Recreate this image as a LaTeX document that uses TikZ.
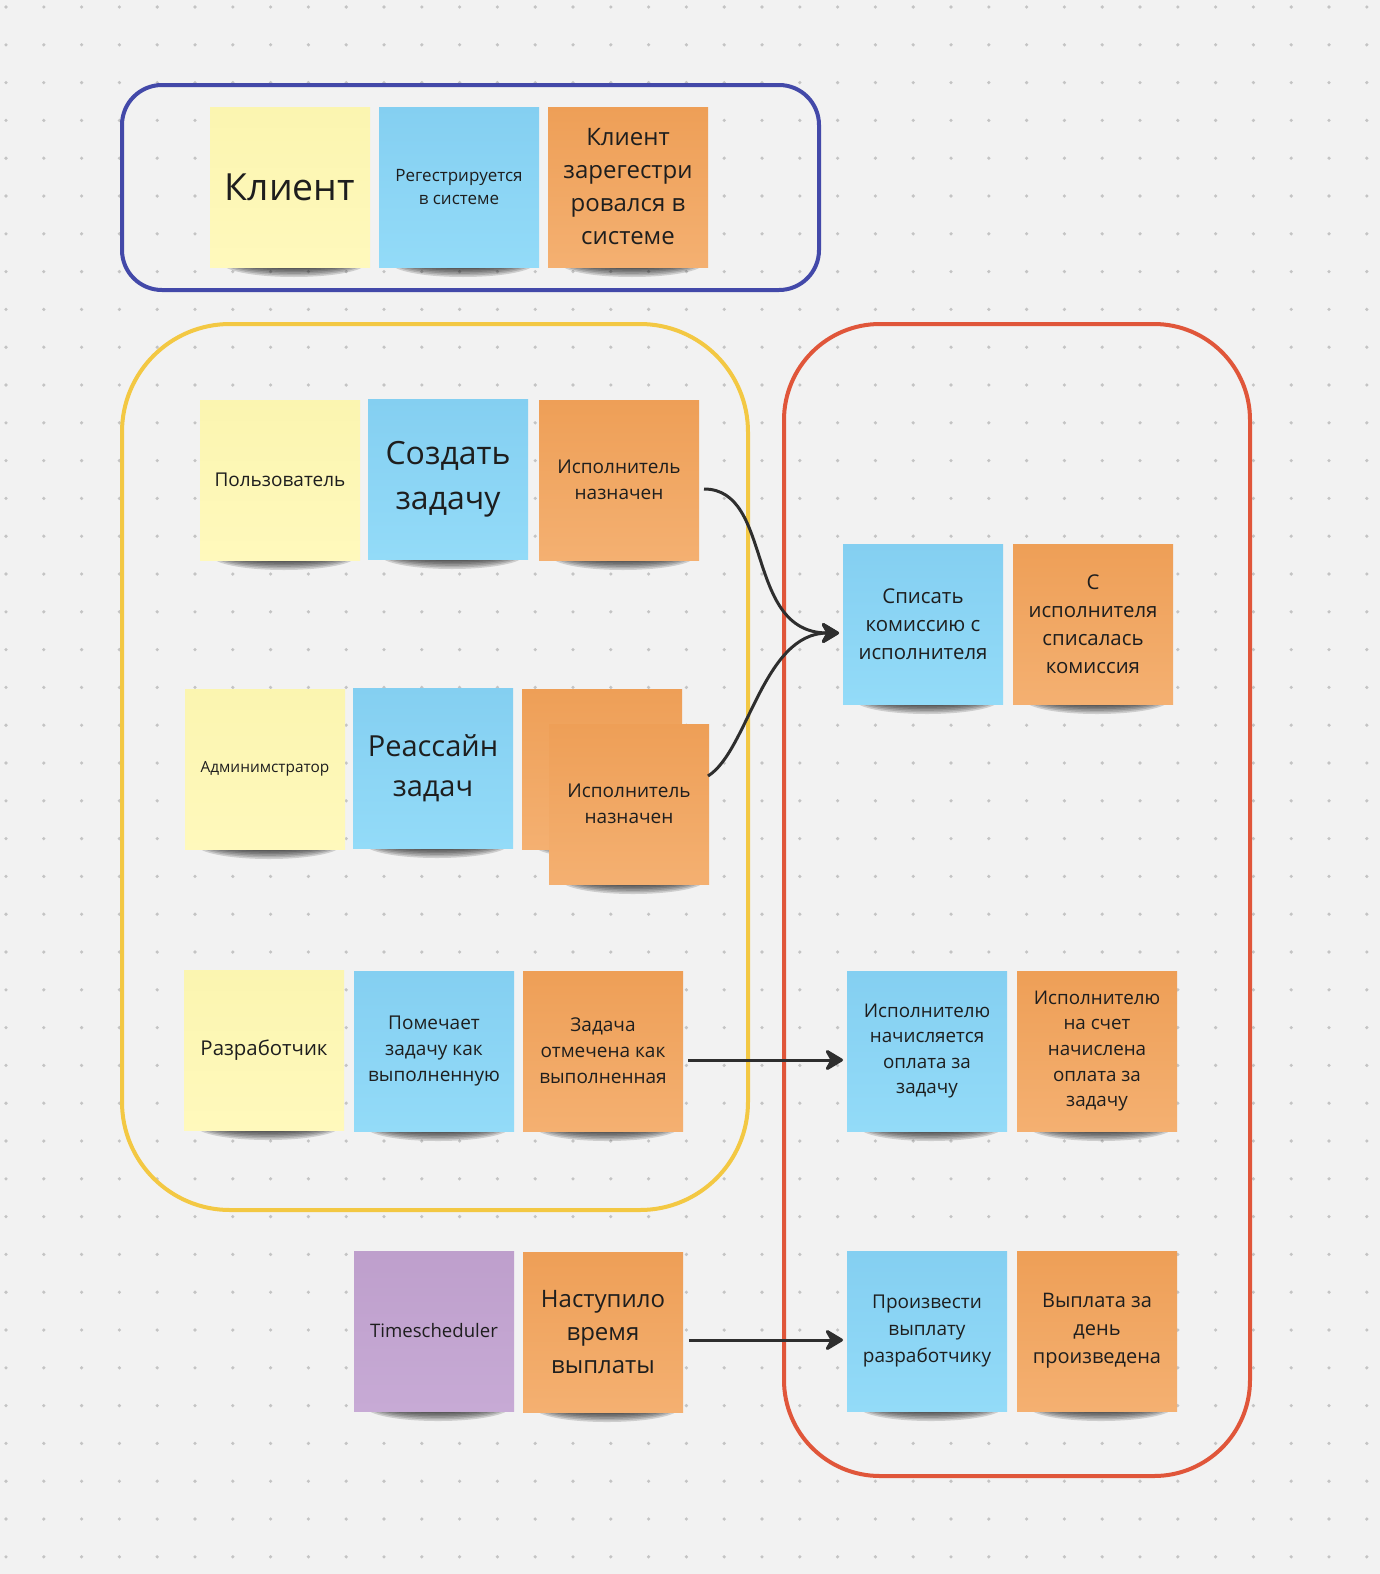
\documentclass[tikz,border=0pt]{standalone}
\usepackage{fontspec}
\setmainfont{Open Sans}
\usetikzlibrary{arrows.meta,calc}
\definecolor{bgc}{HTML}{F2F2F2}
\definecolor{dotc}{HTML}{C4C4C4}
\definecolor{textc}{HTML}{1E1E1E}
\definecolor{framebl}{HTML}{4349A9}
\definecolor{frameye}{HTML}{F3C843}
\definecolor{framere}{HTML}{E0563A}
\definecolor{linec}{HTML}{2E2E2E}
\definecolor{yeltop}{HTML}{FBF5B0}
\definecolor{yelbot}{HTML}{FFF9BC}
\definecolor{blutop}{HTML}{84CFF1}
\definecolor{blubot}{HTML}{93DBF8}
\definecolor{ortop}{HTML}{EE9F57}
\definecolor{orbot}{HTML}{F4B071}
\definecolor{purtop}{HTML}{BE9FCC}
\definecolor{purbot}{HTML}{C7AAD5}
\tikzset{
  sticky/.style={rectangle, minimum width=80pt, minimum height=80pt, inner sep=0pt, outer sep=0pt},
  yel/.style={top color=yeltop, bottom color=yelbot},
  blu/.style={top color=blutop, bottom color=blubot},
  ora/.style={top color=ortop, bottom color=orbot},
  pur/.style={top color=purtop, bottom color=purbot},
  txt/.style={align=center, text=textc, inner sep=0pt},
  frame/.style={line width=2pt, fill=none},
  shadowlayer/.style={fill=black, opacity=0.15},
  conn/.style={line width=1.5pt, draw=linec, -{Stealth[length=10.5pt,width=12.5pt,inset=3.5pt,round]}},
}
\newcommand\stk[7]{%
  \foreach \k in {0,...,5} {
    \fill[shadowlayer] ($(#2,#3)+(4,76)$) ellipse [x radius={36pt-1.6pt*\k}, y radius={7pt-0.8pt*\k}];
  }
  \node[sticky,#4] (#1) at (#2,#3) {};
  \node[txt, font=\fontsize{#5}{#6}\selectfont] (#1-t) at (#1.center) {#7};
}
\begin{document}
\begin{tikzpicture}[x=0.5pt,y=-0.5pt]
\fill[bgc] (0,0) rectangle (1380,1574);
\useasboundingbox (0,0) rectangle (1380,1574);
\foreach \i in {0,...,36} {
  \foreach \j in {0,...,41} {
    \fill[dotc] (6+37.8*\i, 7+37.8*\j) circle (0.9pt);
  }
}
% frames
\draw[frame, draw=framebl, rounded corners=20pt] (122,85) rectangle (819,290);
\draw[frame, draw=frameye, rounded corners=54pt] (122,324) rectangle (748,1210);
\draw[frame, draw=framere, rounded corners=48pt] (784,324) rectangle (1250,1476);
% row 0
\stk{k0}{290}{187}{yel}{18.7}{24}{Клиент}
\stk{b0}{459}{187}{blu}{8.5}{11.5}{Регестрируется\\в системе}
\stk{o0}{628}{187}{ora}{12}{16.5}{Клиент\\зарегестри\\ровался в\\системе}
% row 1
\stk{y1}{280}{480}{yel}{9.5}{12.5}{Пользователь}
\stk{b1}{448}{479}{blu}{16}{22.5}{Создать\\задачу}
\stk{o1}{619}{480}{ora}{9.5}{12.8}{Исполнитель\\назначен}
% row 2
\stk{y2}{265}{769}{yel}{7.7}{10}{Админимстратор}
\stk{b2}{433}{768}{blu}{14.5}{20}{Реассайн\\задач}
\stk{o2b}{602}{769}{ora}{9.5}{12.5}{}
\stk{o2}{629}{804}{ora}{9.5}{12.8}{Исполнитель\\назначен}
% row 3
\stk{y3}{264}{1050}{yel}{10.2}{13}{Разработчик}
\stk{b3}{434}{1051}{blu}{9.5}{13}{Помечает\\задачу как\\выполненную}
\stk{o3}{603}{1051}{ora}{9.5}{13}{Задача\\отмечена как\\выполненная}
% row 4
\stk{p4}{434}{1331}{pur}{9.3}{12}{Timescheduler}
\stk{o4}{603}{1332}{ora}{12}{16.5}{Наступило\\время\\выплаты}
% right column
\stk{rb1}{923}{624}{blu}{10.2}{14}{Списать\\комиссию с\\исполнителя}
\stk{ro1}{1093}{624}{ora}{10.2}{14}{С\\исполнителя\\списалась\\комиссия}
\stk{rb2}{927}{1051}{blu}{9.4}{12.8}{Исполнителю\\начисляется\\оплата за\\задачу}
\stk{ro2}{1097}{1051}{ora}{9.4}{12.8}{Исполнителю\\на счет\\начислена\\оплата за\\задачу}
\stk{rb3}{927}{1331}{blu}{9.5}{13.3}{Произвести\\выплату\\разработчику}
\stk{ro3}{1097}{1331}{ora}{10}{14}{Выплата за\\день\\произведена}
% connectors
\draw[conn] ($(o1.east)+(5,9)$) .. controls (774,489) and (744,633) .. ($(rb1.west)+(-4,9)$);
\draw[conn] ($(o2.east)+(-1,-28)$) .. controls (748,751) and (763,633) .. ($(rb1.west)+(-4,9)$);
\draw[conn] ($(o3.east)+(5,9)$) -- ($(rb2.west)+(-4,9)$);
\draw[conn] ($(o4.east)+(6,8)$) -- ($(rb3.west)+(-4,9)$);
\end{tikzpicture}
\end{document}
